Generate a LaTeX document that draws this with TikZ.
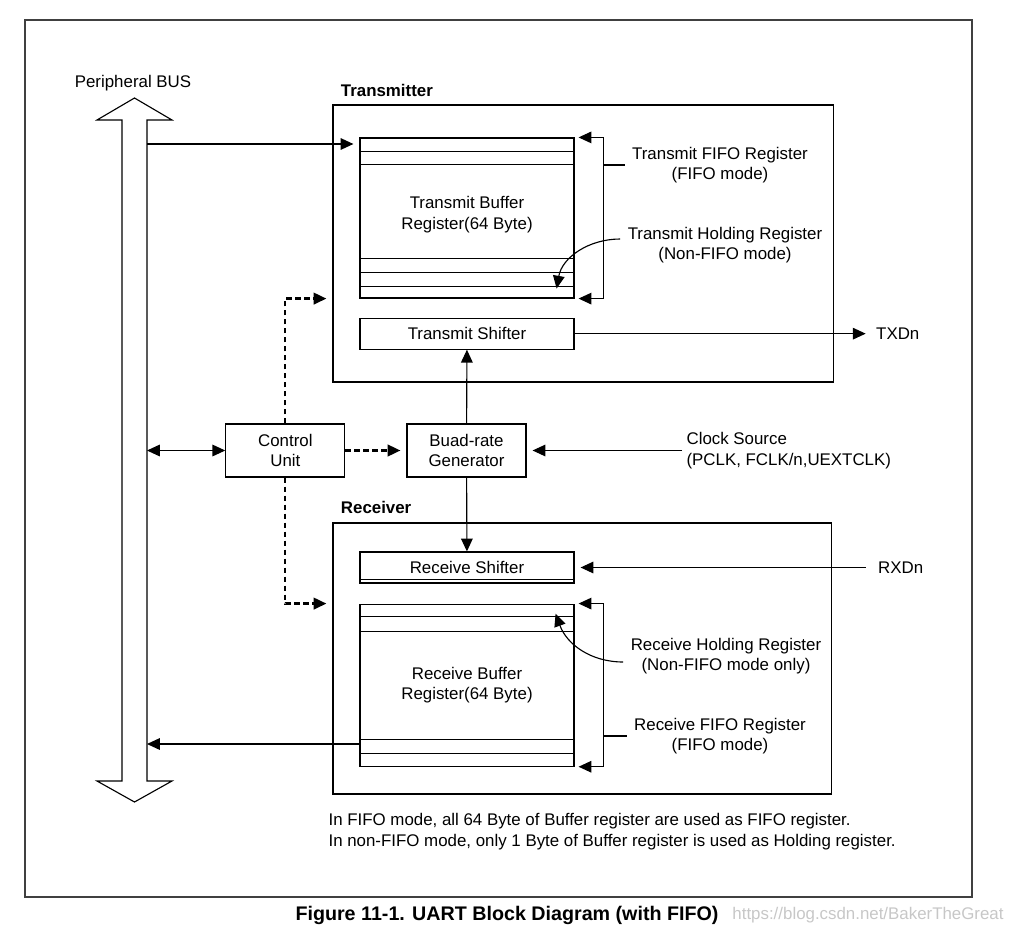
\documentclass[tikz,border=0pt]{standalone}
\usepackage{fontspec}
\setmainfont{Liberation Sans}
\usetikzlibrary{arrows.meta, positioning, calc}

\begin{document}
\begin{tikzpicture}[x=0.025cm, y=-0.025cm, >={Triangle[length=3.2mm, width=2.9mm]}, line width=0.8pt,
  font=\fontsize{12}{14.5}\selectfont,
  block/.style={draw, rectangle, inner sep=0pt, align=center, minimum width=2.975cm, minimum height=1.325cm},
  unit/.style={draw, rectangle, inner sep=0pt, align=center, minimum width=5.35cm},
  frame/.style={draw, rectangle, inner sep=0pt},
  title/.style={font=\fontsize{12}{14.5}\selectfont\bfseries, inner sep=0pt},
  note/.style={inner xsep=5pt, inner ysep=0pt, align=center},
  ctl/.style={dash pattern=on 4pt off 2.4pt, line width=1.6pt},
  gap/.style={shorten >=0.15cm}]

\useasboundingbox (0,0) rectangle (1012,940);
\draw[black!75, line width=1.1pt] (25,20) rectangle (972,897);

% Peripheral bus
\draw (122,781) -- (122,120) -- (97,120) -- (134.5,98) -- (172,120) -- (147,120) -- (147,781)
  -- (172,781) -- (134.5,802) -- (97,781) -- cycle;
\node (busl) at (133,83) {Peripheral BUS};
\coordinate (bustx) at (147,144);
\coordinate (busctl) at (147,450.5);
\coordinate (busrx) at (147,744);

% Transmitter
\node (tx) [frame, minimum width=12.5cm, minimum height=6.925cm] at (583,243.5) {};
\node (txl) [title, above right=0.175cm and 0.2cm of tx.north west] {Transmitter};
\node (tbuf) [unit, minimum height=4cm] at (467,218) {Transmit Buffer\\Register(64 Byte)\\[-0.26cm]};
\foreach \d in {14,27}
  \draw ($(tbuf.north west)+(0,\d)$) -- ($(tbuf.north east)+(0,\d)$);
\foreach \d in {12,26,40}
  \draw ($(tbuf.south west)+(0,-\d)$) -- ($(tbuf.south east)+(0,-\d)$);
\node (tshift) [unit, minimum height=0.775cm, below=0.475cm of tbuf] {Transmit Shifter};

\coordinate (tbr) at ($(tbuf.north east)+(29,0)$);
\draw[<->] ($(tbuf.north east)+(4,0)$) -- (tbr) |- ($(tbuf.south east)+(4,0)$);
\node (tfifo) [note] at (720,165) {Transmit FIFO Register\\(FIFO mode)};
\draw (tbr |- tfifo.west) -- (tfifo.west);
\node (thold) [note] at (725,245) {Transmit Holding Register\\(Non-FIFO mode)};
\draw[->] ($(thold.west)+(0,-6)$) to[out=180, in=80] ($(tbuf.south east)+(-18,-10)$);

\node (txd) [inner sep=0pt, right=7.525cm of tshift] {TXDn};
\draw[->] (tshift) -- ([xshift=-0.25cm]txd.west);

% Control unit and baud-rate generator
\node (gen) [block] at (466.5,450.5) {Buad-rate\\Generator};
\node (ctrl) [block, left=1.525cm of gen] {Control\\Unit};
\draw[<->] (busctl) -- (ctrl);
\draw[ctl, ->, gap] (ctrl) -- (gen);
\draw[ctl, ->, gap] (ctrl.north) |- (tx.west |- tbuf.south);
\draw[->] (gen) -- (tshift);

\node (clk) [inner sep=0pt, align=left, anchor=west] at (686,450.5) {Clock Source\\(PCLK, FCLK/n,UEXTCLK)};
\draw[->, gap] ([xshift=-0.1cm]clk.west) -- (gen.east);

% Receiver
\node (rx) [frame, minimum width=12.45cm, minimum height=6.775cm] at (582,658.5) {};
\node (rxl) [title, above right=0.2cm and 0.2cm of rx.north west] {Receiver};
\node (rshift) [unit, minimum height=0.775cm] at (467,567.5) {Receive Shifter};
\draw ($(rshift.south west)+(0,-4)$) -- ($(rshift.south east)+(0,-4)$);
\node (rbuf) [unit, minimum height=4.05cm, below=0.5cm of rshift] {Receive Buffer\\Register(64 Byte)};
\foreach \d in {13,28}
  \draw ($(rbuf.north west)+(0,\d)$) -- ($(rbuf.north east)+(0,\d)$);
\foreach \d in {13,27}
  \draw ($(rbuf.south west)+(0,-\d)$) -- ($(rbuf.south east)+(0,-\d)$);
\draw[->] (gen) -- (rshift);
\draw[ctl, ->, gap] (ctrl.south) |- (rx.west |- rbuf.north);

\coordinate (rbr) at ($(rbuf.north east)+(29,0)$);
\draw[<->] ($(rbuf.north east)+(4,0)$) -- (rbr) |- ($(rbuf.south east)+(4,0)$);
\node (rhold) [note] at (726,656) {Receive Holding Register\\(Non-FIFO mode only)};
\draw[->] ($(rhold.west)+(0,6)$) to[out=180, in=-70] ($(rbuf.north east)+(-19,10)$);
\node (rfifo) [note] at (720,736) {Receive FIFO Register\\(FIFO mode)};
\draw (rbr |- rfifo.west) -- (rfifo.west);

\node (rxd) [inner sep=0pt, right=7.575cm of rshift] {RXDn};
\draw[->, gap] ([xshift=-0.3cm]rxd.west) -- (rshift.east);
\draw[->] (busrx -| rbuf.west) -- (busrx);
\draw[->, gap] (bustx) -- (bustx -| tbuf.west);

% Notes and caption
\node (fn) [inner sep=0pt, align=left, anchor=west] at (328,831.5)
  {In FIFO mode, all 64 Byte of Buffer register are used as FIFO register.\\
   In non-FIFO mode, only 1 Byte of Buffer register is used as Holding register.};
\node (cap) [title, font=\fontsize{14}{16}\selectfont\bfseries] at (507,915) {Figure 11-1. UART Block Diagram (with FIFO)};
\node (wm) [inner sep=0pt, text=black!22] at (868,915) {https://blog.csdn.net/BakerTheGreat};
\end{tikzpicture}
\end{document}
